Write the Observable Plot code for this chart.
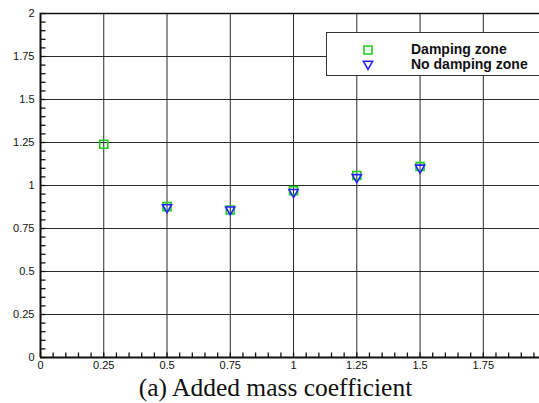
<!DOCTYPE html>
<html>
<head>
<meta charset="utf-8">
<script src="https://cdn.jsdelivr.net/npm/d3@7"></script>
<script src="https://cdn.jsdelivr.net/npm/@observablehq/plot@0.6"></script>
<style>
  html, body { margin: 0; padding: 0; background: #fff; }
  #wrap { position: relative; width: 539px; height: 403px; overflow: hidden; background: #fff; }
  #legend { position: absolute; left: 326px; top: 32px; width: 230px; height: 44px; border: 1px solid #333; background: #fff; box-sizing: border-box; }
  #legend svg { position: absolute; left: 0; top: 0; }
  #legend .lbl { position: absolute; left: 84px; font: bold 14px "Liberation Sans", Arial, sans-serif; color: #111; white-space: nowrap; line-height: 15px; }
  #title { position: absolute; left: 0; top: 374px; width: 539px; text-align: center; padding-left: 12px; box-sizing: border-box; font: 25.5px "Liberation Serif", "Times New Roman", serif; line-height: 28px; color: #111; }
</style>
</head>
<body>
<div id="wrap">
  <div id="chart"></div>
  <div id="legend"></div>
  <div id="title">(a) Added mass coefficient</div>
</div>
<script>
// Data
const freqDamping = [0.25, 0.5, 0.75, 1.0, 1.25, 1.5];
const damping     = [1.24, 0.877, 0.858, 0.97, 1.058, 1.11];
const freqNoDamping = [0.5, 0.75, 1.0, 1.25, 1.5];
const noDamping     = [0.867, 0.854, 0.955, 1.042, 1.097];

const seriesNames = ["Damping zone", "No damping zone"];
const xTicks = [0, 0.25, 0.5, 0.75, 1, 1.25, 1.5, 1.75];
const yTicks = [0, 0.25, 0.5, 0.75, 1, 1.25, 1.5, 1.75, 2];

const greenC = "#1ecc1e";
const blueC = "#2424ff";

const dampingData = freqDamping.map((f, i) => ({f, v: damping[i]}));
const noDampingData = freqNoDamping.map((f, i) => ({f, v: noDamping[i]}));

const minorX = d3.range(0, 1.97, 0.05).map(v => +v.toFixed(2));
const minorY = d3.range(0, 2.001, 0.05).map(v => +v.toFixed(2));

const invTriangle = {
  draw(context, size) {
    const s = Math.sqrt(size / Math.PI);
    context.moveTo(-s, -0.8 * s);
    context.lineTo(s, -0.8 * s);
    context.lineTo(0, 0.95 * s);
    context.closePath();
  }
};
// inward tick symbols (pixel length)
const upTick = { draw(c) { c.moveTo(0, 0); c.lineTo(0, -5); } };
const rightTick = { draw(c) { c.moveTo(0, 0); c.lineTo(5, 0); } };

const fmt = d => String(d);

const chart = Plot.plot({
  width: 539,
  height: 372,
  marginLeft: 40,
  marginRight: 0,
  marginTop: 13,
  marginBottom: 15,
  style: {fontFamily: "'Liberation Sans', Arial, sans-serif", fontSize: "11px", background: "white", color: "#111"},
  x: {domain: [0, 1.972], label: null},
  y: {domain: [0, 2], label: null},
  marks: [
    Plot.gridX(xTicks, {stroke: "#2a2a2a", strokeOpacity: 1, strokeWidth: 1}),
    Plot.gridY(yTicks, {stroke: "#2a2a2a", strokeOpacity: 1, strokeWidth: 1}),
    Plot.dot(minorX, {x: d => d, y: () => 0, symbol: upTick, r: 3, stroke: "#111", strokeWidth: 1.3, fill: "none"}),
    Plot.dot(minorY, {x: () => 0, y: d => d, symbol: rightTick, r: 3, stroke: "#111", strokeWidth: 1.3, fill: "none"}),
    Plot.axisX(xTicks, {tickSize: 0, tickPadding: 4, tickFormat: fmt, label: null}),
    Plot.axisY(yTicks, {tickSize: 0, tickPadding: 6, tickFormat: fmt, label: null}),
    Plot.ruleX([0], {stroke: "#111", strokeWidth: 2}),
    Plot.ruleY([0], {stroke: "#111", strokeWidth: 2}),
    Plot.ruleY([2], {stroke: "#111", strokeWidth: 1.5}),
    Plot.dot(dampingData, {x: "f", y: "v", symbol: "square", r: 4.5, stroke: greenC, strokeWidth: 1.6, fill: "none"}),
    Plot.dot(noDampingData, {x: "f", y: "v", symbol: invTriangle, r: 4.6, stroke: blueC, strokeWidth: 1.6, fill: "none"})
  ]
});
document.getElementById("chart").appendChild(chart);

// Legend
const legend = document.getElementById("legend");
const lsvg = d3.create("svg").attr("width", 80).attr("height", 44);
const sq = d3.symbol(d3.symbolSquare, 4.5 * 4.5 * Math.PI)();
const tri = d3.symbol(invTriangle, 4.6 * 4.6 * Math.PI)();
lsvg.append("path").attr("d", sq).attr("transform", "translate(41,17)")
  .attr("fill", "none").attr("stroke", greenC).attr("stroke-width", 1.6);
lsvg.append("path").attr("d", tri).attr("transform", "translate(41,32)")
  .attr("fill", "none").attr("stroke", blueC).attr("stroke-width", 1.6);
legend.appendChild(lsvg.node());
seriesNames.forEach((name, i) => {
  const d = document.createElement("div");
  d.className = "lbl";
  d.style.top = (9 + i * 15) + "px";
  d.textContent = name;
  legend.appendChild(d);
});
</script>
</body>
</html>
